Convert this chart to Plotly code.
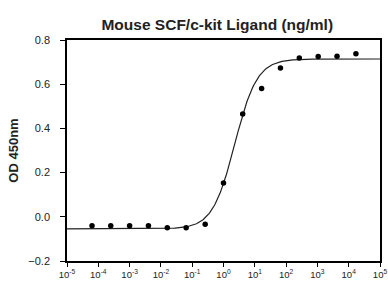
import numpy as np
import plotly.graph_objects as go

# Data
conc = [6.3e-5, 2.5e-4, 1.0e-3, 4.0e-3, 1.6e-2, 6.4e-2, 0.26, 1.0, 4.1, 16.5,
        66, 264, 1060, 4240, 17000]
od = [-0.040, -0.040, -0.040, -0.040, -0.050, -0.050, -0.034, 0.153, 0.465, 0.580,
      0.673, 0.718, 0.725, 0.727, 0.738]

# 4PL fit parameters
fit_bottom = -0.055
fit_top = 0.714
fit_logec50 = 0.36
fit_hill = 1.22

xs_log = np.linspace(-5, 5, 400)
xs = 10 ** xs_log
ys = fit_bottom + (fit_top - fit_bottom) / (1 + 10 ** (fit_hill * (fit_logec50 - xs_log)))

x_tickvals = [10.0 ** e for e in range(-5, 6)]
x_ticktext = [f"10<sup>{e}</sup>" for e in range(-5, 6)]
y_tickvals = [-0.2, 0.0, 0.2, 0.4, 0.6, 0.8]

fig = go.Figure()
fig.add_trace(go.Scatter(x=xs, y=ys, mode="lines",
                         line=dict(color="#222222", width=1.2), hoverinfo="skip"))
fig.add_trace(go.Scatter(x=conc, y=od, mode="markers",
                         marker=dict(color="black", size=5.5, symbol="circle")))

fig.update_layout(
    width=388, height=284,
    margin=dict(l=67, r=8, t=40, b=23),
    paper_bgcolor="white", plot_bgcolor="white",
    showlegend=False,
    font=dict(family="Arial, Liberation Sans, sans-serif", color="#222222", size=9),
    title=dict(text="<b>Mouse SCF/c-kit Ligand (ng/ml)</b>", x=0.56, xanchor="center",
               y=0.913, yanchor="middle", font=dict(size=15.5, color="#222222")),
)
fig.update_xaxes(type="log", range=[-5, 5], tickvals=x_tickvals, ticktext=x_ticktext,
                 showgrid=False, zeroline=False, showline=True, linecolor="black",
                 linewidth=1.5, mirror=True, ticks="outside", ticklen=4, tickcolor="black",
                 tickfont=dict(size=9.5), automargin=False)
fig.update_yaxes(range=[-0.2, 0.8], tickvals=y_tickvals, tickformat=".1f",
                 showgrid=False, zeroline=False, showline=True, linecolor="black",
                 linewidth=1.5, mirror=True, ticks="outside", ticklen=5, tickcolor="black",
                 tickfont=dict(size=11), ticklabelstandoff=8, automargin=False,
                 title=dict(text="<b>OD 450nm</b>", font=dict(size=13), standoff=7))
fig.write_html("out.html", config={"displayModeBar": False},
               post_script="document.body.style.margin='0px';document.body.style.overflow='hidden';")
